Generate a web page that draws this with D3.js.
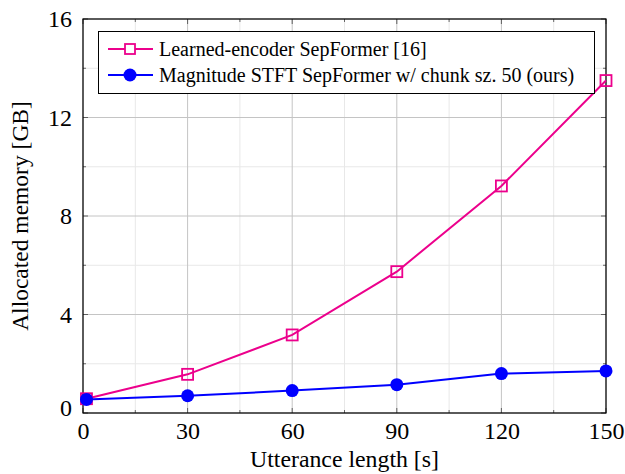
<!DOCTYPE html>
<html><head><meta charset="utf-8">
<script src="https://cdn.jsdelivr.net/npm/d3@7"></script>
<style>body{margin:0;background:#fff}svg{display:block}</style>
</head><body><svg id="c" width="625" height="474"></svg>
<script>
const xValues = [1, 30, 60, 90, 120, 150];
const learnedEncoder = [0.58, 1.57, 3.17, 5.74, 9.22, 13.5];
const stftChunk50 = [0.55, 0.70, 0.91, 1.15, 1.60, 1.71];
const xTicks = [0, 30, 60, 90, 120, 150];
const yTicks = [0, 4, 8, 12, 16];
const xMinor = [15, 45, 75, 105, 135];
const yMinor = [2, 6, 10, 14];
const seriesNames = ["Learned-encoder SepFormer [16]", "Magnitude STFT SepFormer w/ chunk sz. 50 (ours)"];

const FONT = "'Liberation Serif'";
const svg = d3.select("#c");
const L = 83, R = 606, T = 19, B = 413;
const x = d3.scaleLinear().domain([0, 150]).range([L, R]);
const y = d3.scaleLinear().domain([0, 16]).range([B, T]);
const pink = "#ec008c", blue = "#0000ff";

const g = svg.append("g");
g.selectAll(".mgx").data(xMinor).join("line").attr("x1", d => x(d)).attr("x2", d => x(d)).attr("y1", T).attr("y2", B).attr("stroke", "#e8e8e8").attr("stroke-width", 1);
g.selectAll(".mgy").data(yMinor).join("line").attr("y1", d => y(d)).attr("y2", d => y(d)).attr("x1", L).attr("x2", R).attr("stroke", "#e8e8e8").attr("stroke-width", 1);
g.selectAll(".gx").data(xTicks).join("line").attr("x1", d => x(d)).attr("x2", d => x(d)).attr("y1", T).attr("y2", B).attr("stroke", "#c4c4c4").attr("stroke-width", 1);
g.selectAll(".gy").data(yTicks).join("line").attr("y1", d => y(d)).attr("y2", d => y(d)).attr("x1", L).attr("x2", R).attr("stroke", "#c4c4c4").attr("stroke-width", 1);

function ticksX(vals, len) {
  vals.forEach(v => {
    g.append("line").attr("x1", x(v)).attr("x2", x(v)).attr("y1", B).attr("y2", B - len).attr("stroke", "#444").attr("stroke-width", 0.8);
    g.append("line").attr("x1", x(v)).attr("x2", x(v)).attr("y1", T).attr("y2", T + len).attr("stroke", "#444").attr("stroke-width", 0.8);
  });
}
function ticksY(vals, len) {
  vals.forEach(v => {
    g.append("line").attr("y1", y(v)).attr("y2", y(v)).attr("x1", L).attr("x2", L + len).attr("stroke", "#444").attr("stroke-width", 0.8);
    g.append("line").attr("y1", y(v)).attr("y2", y(v)).attr("x1", R).attr("x2", R - len).attr("stroke", "#444").attr("stroke-width", 0.8);
  });
}
ticksX(xTicks, 5); ticksX(xMinor, 3); ticksY(yTicks, 5); ticksY(yMinor, 3);

g.append("rect").attr("x", L).attr("y", T).attr("width", R - L).attr("height", B - T).attr("fill", "none").attr("stroke", "#000").attr("stroke-width", 1.2);

const xAxis = svg.append("g").attr("transform", `translate(0,${B})`).call(d3.axisBottom(x).tickValues(xTicks).tickSize(0).tickPadding(10).tickFormat(d3.format("d")));
xAxis.select(".domain").remove();
xAxis.selectAll("text").style("font-family", FONT).style("font-size", "24px").attr("fill", "#000").attr("y", 26).attr("dy", 0);
const yAxis = svg.append("g").attr("transform", `translate(${L},0)`).call(d3.axisLeft(y).tickValues(yTicks).tickSize(0).tickPadding(11).tickFormat(d3.format("d")));
yAxis.select(".domain").remove();
yAxis.selectAll("text").style("font-family", FONT).style("font-size", "24px").attr("fill", "#000");
yAxis.selectAll(".tick").filter(d => d === 0).select("text").attr("dy", "0.1em");

svg.append("text").attr("x", (L + R) / 2).attr("y", 467).attr("text-anchor", "middle").style("font-family", FONT).style("font-size", "23.8px").text("Utterance length [s]");
svg.append("text").attr("transform", `translate(28,${(T + B) / 2}) rotate(-90)`).attr("text-anchor", "middle").style("font-family", FONT).style("font-size", "23.5px").text("Allocated memory [GB]");

const line = d3.line().x(d => x(d[0])).y(d => y(d[1]));
const pData = xValues.map((v, i) => [v, learnedEncoder[i]]);
const bData = xValues.map((v, i) => [v, stftChunk50[i]]);
svg.append("path").datum(pData).attr("d", line).attr("fill", "none").attr("stroke", pink).attr("stroke-width", 2);
svg.selectAll(".sq").data(pData).join("rect").attr("x", d => x(d[0]) - 5.5).attr("y", d => y(d[1]) - 5.5).attr("width", 11).attr("height", 11).attr("fill", "none").attr("stroke", pink).attr("stroke-width", 1.8);
svg.append("path").datum(bData).attr("d", line).attr("fill", "none").attr("stroke", blue).attr("stroke-width", 2);
svg.selectAll(".ci").data(bData).join("circle").attr("cx", d => x(d[0])).attr("cy", d => y(d[1])).attr("r", 6.5).attr("fill", blue);

const lg = svg.append("g");
lg.append("rect").attr("x", 98.5).attr("y", 31.5).attr("width", 496).attr("height", 62).attr("fill", "#fff").attr("stroke", "#000").attr("stroke-width", 1);
[[pink, "sq"], [blue, "ci"]].forEach((s, i) => {
  const cy = 49 + i * 26;
  lg.append("line").attr("x1", 108).attr("x2", 153).attr("y1", cy).attr("y2", cy).attr("stroke", s[0]).attr("stroke-width", 2);
  if (s[1] === "sq") lg.append("rect").attr("x", 125).attr("y", cy - 5).attr("width", 10).attr("height", 10).attr("fill", "#fff").attr("stroke", s[0]).attr("stroke-width", 1.8);
  else lg.append("circle").attr("cx", 130).attr("cy", cy).attr("r", 6.5).attr("fill", s[0]);
  lg.append("text").attr("x", 159).attr("y", cy).attr("dy", "0.33em").style("font-family", FONT).style("font-size", "20px").text(seriesNames[i]);
});
</script></body></html>
